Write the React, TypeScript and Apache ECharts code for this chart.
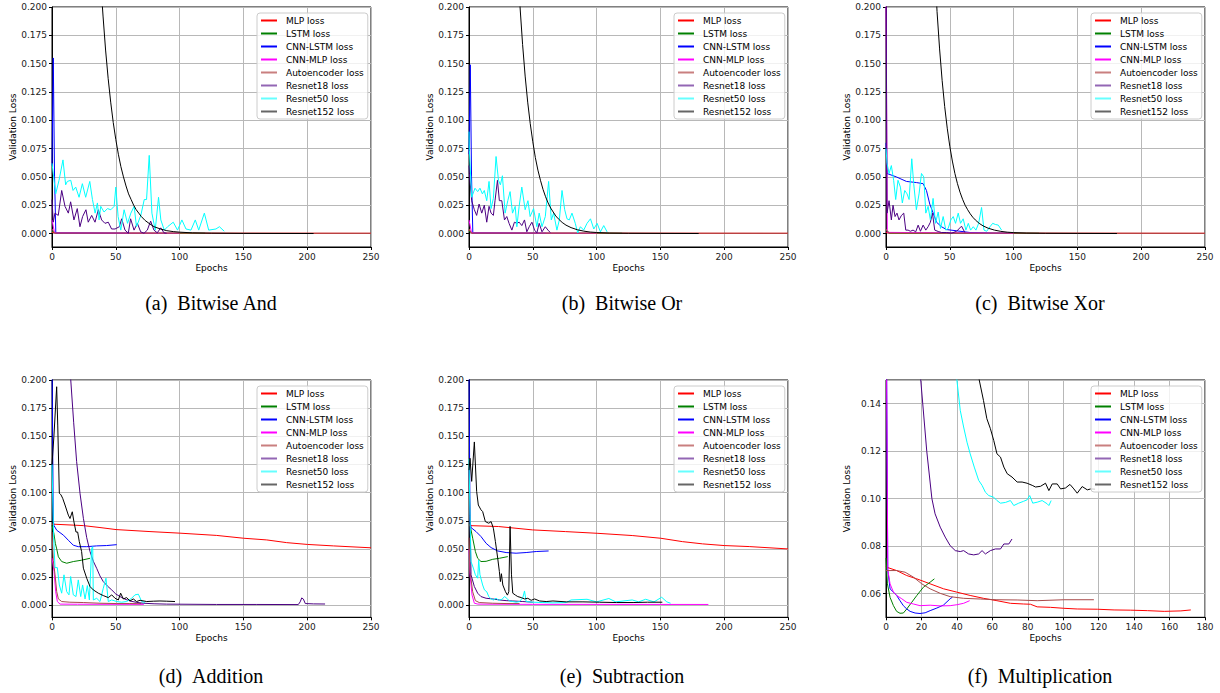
import React, { useEffect, useRef } from 'react';
import * as echarts from 'echarts';

type Pt = [number, number];

const MODELS = ['MLP loss', 'LSTM loss', 'CNN-LSTM loss', 'CNN-MLP loss', 'Autoencoder loss', 'Resnet18 loss', 'Resnet50 loss', 'Resnet152 loss'];
const LINE_COLORS = ['#ff0000', '#008000', '#0000ff', '#ff00ff', '#a84a4a', '#4b0082', '#00ffff', '#000000'];
const LEGEND_COLORS = ['#ff0000', '#008000', '#0000ff', '#ff00ff', '#c97f7f', '#9366b4', '#66ffff', '#666666'];
const CAPTIONS = ['(a)\u00a0\u00a0Bitwise And', '(b)\u00a0\u00a0Bitwise Or', '(c)\u00a0\u00a0Bitwise Xor', '(d)\u00a0\u00a0Addition', '(e)\u00a0\u00a0Subtraction', '(f)\u00a0\u00a0Multiplication'];
const X_TICKS_250 = [0, 50, 100, 150, 200, 250];
const X_TICKS_180 = [0, 20, 40, 60, 80, 100, 120, 140, 160, 180];
const Y_TICKS_LOSS = [0, 0.025, 0.05, 0.075, 0.1, 0.125, 0.15, 0.175, 0.2];
const Y_TICKS_MUL = [0.06, 0.08, 0.1, 0.12, 0.14];

// ---------- (a) Bitwise And ----------
const BITWISE_AND: Pt[][] = [
  [[0, 0.001], [3, 0.0003], [250, 0.0002]],
  [[0, 0.002], [3, 0.0004], [120, 0.0002]],
  [[0, 0.06], [1, 0.155], [2, 0.05], [3, 0.0005], [60, 0.0002]],
  [[0, 0.012], [2, 0.0005], [100, 0.0002]],
  [[0, 0.004], [2, 0.0004], [250, 0.0002]],
  [[0, 0.03], [1, 0.01], [2.3, 0.018], [4.9, 0.016], [7.6, 0.038], [10.2, 0.024], [12.8, 0.018], [14.6, 0.028], [17.2, 0.012], [19.8, 0.022], [21.9, 0.006], [24, 0.015], [26.6, 0.021], [28.4, 0.01], [31.1, 0.016], [33.7, 0.01], [36.3, 0.021], [38.9, 0.012], [41.5, 0.009], [44.1, 0.01], [46.7, 0.004], [49.4, 0.004], [52.8, 0.006], [54.6, 0.013], [57.2, 0.003], [59.8, 0.0003], [61.6, 0.013], [64.3, 0.003], [66.9, 0.009], [69.5, 0.0015], [72.1, 0.0002], [74.7, 0.003], [77.3, 0.011], [79.9, 0.003], [82.5, 0.0006], [85.2, 0.005], [87.8, 0.0006], [89.8, 0.0003]],
  [[0, 0.062], [2.9, 0.035], [5.5, 0.047], [8.6, 0.065], [10.7, 0.043], [12, 0.046], [14.7, 0.047], [16.5, 0.038], [18.6, 0.041], [21.2, 0.032], [23.8, 0.044], [26.4, 0.032], [29.6, 0.046], [31.7, 0.03], [33.8, 0.018], [35.6, 0.027], [36.9, 0.012], [38.2, 0.024], [40.8, 0.019], [43.5, 0.022], [46.1, 0.021], [48.7, 0.024], [50, 0.041], [51.8, 0.015], [53.9, 0.003], [56.5, 0.021], [59.2, 0.009], [61.8, 0.018], [64.4, 0.024], [66.2, 0.006], [69.6, 0.016], [72.3, 0.03], [74.1, 0.03], [76.2, 0.069], [78.3, 0.018], [80.9, 0.003], [83.5, 0.032], [85.3, 0.012], [88, 0.003], [90.6, 0.006], [95, 0.01], [98.4, 0.003], [101.8, 0.012], [105, 0.004], [108.9, 0.003], [112.3, 0.012], [115, 0.003], [119.4, 0.018], [122.8, 0.003], [128.5, 0.004], [131.2, 0.006], [135, 0.002]],
  [[30, 0.44], [35, 0.29], [38, 0.225], [40, 0.192], [42, 0.162], [44, 0.137], [46, 0.116], [48, 0.098], [50, 0.083], [52, 0.07], [54, 0.059], [56, 0.05], [58, 0.042], [60, 0.035], [62, 0.03], [64, 0.025], [66, 0.021], [68, 0.018], [70, 0.015], [73, 0.0115], [76, 0.009], [80, 0.006], [85, 0.004], [90, 0.0025], [95, 0.0017], [100, 0.0012], [110, 0.0006], [125, 0.0003], [150, 0.0001], [205, 0]],
];

// ---------- (b) Bitwise Or ----------
const BITWISE_OR: Pt[][] = [
  [[0, 0.003], [2, 0.0003], [250, 0.0002]],
  [[0, 0.002], [3, 0.0004], [120, 0.0002]],
  [[0, 0.07], [1, 0.149], [2, 0.05], [3, 0.0005], [60, 0.0002]],
  [[0, 0.012], [2, 0.0005], [100, 0.0002]],
  [[0, 0.004], [2, 0.0004], [250, 0.0002]],
  [[0, 0.06], [0.3, 0.053], [2.1, 0.029], [4.2, 0.021], [6, 0.016], [7.9, 0.026], [10, 0.018], [12, 0.025], [13.9, 0.01], [15.7, 0.024], [17.3, 0.018], [19.1, 0.016], [20.4, 0.029], [22.3, 0.047], [23.8, 0.029], [25.7, 0.029], [27.8, 0.012], [29.6, 0.015], [31.4, 0.009], [33.6, 0.003], [35.6, 0.01], [37.5, 0.009], [39.3, 0.01], [41.4, 0.007], [43.5, 0.012], [45.3, 0.0015], [47.2, 0.006], [49.3, 0.01], [51.4, 0.003], [53.2, 0.0006], [55, 0.009], [57.2, 0.0015], [59.8, 0.006], [61.9, 0.003], [63.7, 0.0009]],
  [[0, 0.09], [0.3, 0.0735], [2.1, 0.032], [4.7, 0.04], [6.8, 0.037], [8.6, 0.04], [10.5, 0.035], [12, 0.038], [13.9, 0.029], [15.7, 0.046], [17.3, 0.022], [19.1, 0.031], [21.2, 0.068], [23.1, 0.047], [24.6, 0.043], [26.2, 0.051], [28.3, 0.018], [30.4, 0.029], [32.2, 0.037], [34.1, 0.018], [36.2, 0.024], [37.5, 0.006], [39.3, 0.024], [41.4, 0.041], [44, 0.021], [46.2, 0.029], [47.9, 0.015], [50.6, 0.022], [53.2, 0.006], [55, 0.018], [57.2, 0.006], [59.8, 0.015], [62.4, 0.046], [64.5, 0.012], [66.3, 0.018], [68.9, 0.003], [70.8, 0.012], [72.9, 0.038], [75, 0.021], [76.8, 0.013], [78.6, 0.012], [80.7, 0.018], [83.3, 0.009], [85.2, 0.0005], [87.3, 0.006], [89.9, 0.003], [92.5, 0.009], [95.2, 0.013], [97.8, 0.004], [100.4, 0.009], [103, 0.0015], [105.6, 0.007], [108.2, 0.0015]],
  [[30, 0.5], [35, 0.32], [38, 0.24], [40, 0.2], [42, 0.167], [44, 0.139], [46, 0.116], [48, 0.097], [50, 0.081], [52, 0.067], [54, 0.056], [56, 0.047], [58, 0.039], [60, 0.0325], [62, 0.027], [64, 0.0225], [66, 0.019], [68, 0.0155], [70, 0.013], [73, 0.0098], [76, 0.0074], [80, 0.0052], [85, 0.0033], [90, 0.0021], [95, 0.0013], [100, 0.0009], [110, 0.0004], [125, 0.0002], [150, 0.0001], [180, 0]],
];

// ---------- (c) Bitwise Xor ----------
const BITWISE_XOR: Pt[][] = [
  [[0, 0.001], [3, 0.0003], [250, 0.0002]],
  [[0, 0.003], [3, 0.0004], [120, 0.0002]],
  [[0, 0.08], [0.8, 0.053], [8.1, 0.05], [16, 0.046], [23.8, 0.045], [29.1, 0.044], [31.7, 0.038], [34.3, 0.026], [37, 0.018], [39.6, 0.01], [43.5, 0.006], [47.4, 0.0035], [55.3, 0.0024], [65.8, 0.0009], [84, 0.0003], [100, 0.0002]],
  [[0, 0.22], [1, 0.001], [100, 0.0002]],
  [[0, 0.004], [2, 0.0004], [250, 0.0002]],
  [[0, 0.25], [0.8, 0.018], [2.4, 0.029], [4.2, 0.012], [5.5, 0.025], [7.1, 0.015], [8.6, 0.018], [10.2, 0.012], [12.1, 0.016], [13.9, 0.018], [15.5, 0.003], [17.3, 0.003], [19.1, 0.002], [21.2, 0.003], [23.3, 0.0015], [25.2, 0.0074], [27, 0.002], [29.1, 0.0074], [31.2, 0.003], [33, 0.006], [34.8, 0.01], [36.4, 0.018], [38.2, 0.003], [40.9, 0.0018], [43.5, 0.0009], [47.4, 0.0009], [51.4, 0.0003], [55.3, 0.002], [59.2, 0.0065], [61.8, 0.0009]],
  [[0, 0.075], [0.8, 0.062], [2.4, 0.053], [4.2, 0.06], [6, 0.047], [7.6, 0.03], [9.4, 0.047], [11.3, 0.041], [12.8, 0.027], [14.7, 0.038], [16.5, 0.035], [18.1, 0.03], [20.2, 0.066], [21.7, 0.044], [23.8, 0.021], [25.9, 0.035], [27.8, 0.053], [29.6, 0.05], [31.2, 0.018], [33, 0.024], [34.8, 0.012], [36.9, 0.031], [38.8, 0.009], [40.9, 0.019], [42.7, 0.0044], [44.8, 0.015], [46.9, 0.003], [48.7, 0.0044], [50.8, 0.012], [52.7, 0.015], [54.5, 0.009], [56.6, 0.018], [58.4, 0.009], [60.5, 0.013], [62.6, 0.003], [64.5, 0.009], [66.3, 0.003], [68.4, 0.006], [70.5, 0.003], [72.6, 0.009], [74.9, 0.023], [76.8, 0.003], [78.9, 0.002], [81.5, 0.006], [83.6, 0.009], [85.7, 0.008], [88, 0.0074], [90.6, 0.003]],
  [[30, 0.5], [35, 0.31], [38, 0.24], [40, 0.196], [42, 0.163], [44, 0.135], [46, 0.112], [48, 0.093], [50, 0.077], [52, 0.064], [54, 0.053], [56, 0.044], [58, 0.0365], [60, 0.0303], [62, 0.025], [64, 0.021], [66, 0.0174], [68, 0.0144], [70, 0.012], [73, 0.009], [76, 0.0068], [80, 0.0047], [85, 0.003], [90, 0.0019], [95, 0.0012], [100, 0.0008], [110, 0.0004], [125, 0.0002], [150, 0.0001], [181, 0]],
];

// ---------- (d) Addition ----------
const ADDITION: Pt[][] = [
  [[0, 0.072], [1, 0.072], [24.6, 0.0707], [37.6, 0.069], [50.2, 0.0672], [76.8, 0.0654], [100.3, 0.064], [129.1, 0.062], [150.2, 0.0595], [168.3, 0.058], [183.9, 0.0556], [200.1, 0.054], [220.5, 0.0527], [250, 0.051]],
  [[0, 0.071], [1.6, 0.063], [2.6, 0.055], [3.7, 0.05], [5, 0.043], [7.6, 0.0388], [11.5, 0.0373], [16.7, 0.0388], [23.2, 0.04], [29.8, 0.0417]],
  [[0, 0.22], [1, 0.075], [1.6, 0.0707], [3.7, 0.0666], [9, 0.0622], [12.8, 0.0577], [16.7, 0.0533], [20.6, 0.052], [27.2, 0.052], [35, 0.0527], [42.8, 0.053], [50.7, 0.0538]],
  [[0, 0.042], [1.6, 0.03], [2.9, 0.012], [4.2, 0.0033], [6.3, 0.001], [20, 0.0009], [72, 0.0008]],
  [[0, 0.065], [1, 0.04], [2.4, 0.027], [3.7, 0.012], [5, 0.0056], [7.6, 0.0033], [14, 0.0027], [24.5, 0.0024], [37.6, 0.0018], [50.7, 0.0015], [61, 0.0015], [70, 0.0014]],
  [[5, 0.5], [10, 0.32], [12.5, 0.255], [14.7, 0.2], [17, 0.162], [19.3, 0.1275], [22, 0.099], [24.6, 0.0772], [27.2, 0.06], [29.8, 0.0476], [32.4, 0.039], [35, 0.0328], [37.6, 0.026], [40.2, 0.021], [43.5, 0.017], [46.8, 0.0136], [50, 0.01], [53.3, 0.0077], [57, 0.0055], [61.1, 0.0038], [66, 0.0026], [71.5, 0.0018], [80, 0.0013], [89.9, 0.001], [129, 0.0007], [160, 0.0007], [193, 0.0006], [194.5, 0.003], [195.7, 0.0065], [197, 0.0055], [198.5, 0.0015], [205, 0.0012], [214, 0.0011]],
  [[0, 0.125], [1.3, 0.06], [2.35, 0.0334], [4.18, 0.0334], [5.75, 0.018], [7.58, 0.0107], [9.4, 0.027], [11.5, 0.0121], [13.3, 0.0092], [14.6, 0.0255], [16.7, 0.0092], [18.8, 0.0077], [20.6, 0.0225], [22.5, 0.0077], [24, 0.018], [25.9, 0.0056], [27.7, 0.0175], [29.3, 0.0047], [31.1, 0.0506], [31.9, 0.052], [32.4, 0.0047], [35, 0.0062], [37.6, 0.0033], [40.2, 0.0151], [42.3, 0.024], [44.1, 0.0033], [46.8, 0.0047], [50.7, 0.0033], [54.6, 0.0027], [58.5, 0.0033], [62.4, 0.0062], [65, 0.0092], [67.7, 0.0098], [70.3, 0.0033], [72.9, 0.0024]],
  [[0, 0.125], [1.5, 0.15], [3.66, 0.194], [4.5, 0.16], [5.75, 0.0995], [7.05, 0.098], [8.36, 0.095], [10.2, 0.089], [12.8, 0.08], [14.1, 0.077], [15.9, 0.083], [17.2, 0.074], [18.8, 0.065], [20.1, 0.065], [21.4, 0.0565], [23.2, 0.0477], [24.6, 0.0329], [27.2, 0.024], [29.8, 0.0166], [32.4, 0.0136], [36.3, 0.0107], [40.2, 0.0086], [44.1, 0.0068], [46.8, 0.0092], [49.4, 0.0062], [52, 0.0047], [53.8, 0.0107], [55.9, 0.0056], [58.5, 0.0068], [61.1, 0.0038], [63.7, 0.0056], [66.3, 0.0033], [69, 0.0044], [74.2, 0.0033], [79.4, 0.0036], [84.6, 0.0038], [89.9, 0.0036], [96.4, 0.0033]],
];

// ---------- (e) Subtraction ----------
const SUBTRACTION: Pt[][] = [
  [[0, 0.0707], [0.8, 0.0707], [23.1, 0.0699], [49.8, 0.0669], [75.5, 0.0654], [100.4, 0.0639], [127.9, 0.0619], [150.2, 0.0595], [167.2, 0.0565], [183, 0.0545], [200, 0.053], [219.6, 0.0521], [250, 0.05]],
  [[0, 0.072], [0.8, 0.0713], [2.9, 0.0595], [5, 0.0477], [6.8, 0.0417], [9.4, 0.0388], [13.4, 0.039], [18.6, 0.0408], [23.8, 0.0417], [30.4, 0.0432]],
  [[0, 0.21], [0.8, 0.075], [1.6, 0.069], [5.5, 0.0654], [9.4, 0.061], [13.4, 0.055], [17.3, 0.0512], [22.5, 0.0482], [29.1, 0.0468], [36.9, 0.0462], [44.8, 0.0468], [52.7, 0.0477], [62.4, 0.0482]],
  [[0, 0.05], [0.8, 0.027], [2.4, 0.009], [4.2, 0.0018], [7, 0.001], [50, 0.0008], [187.6, 0.0007]],
  [[0, 0.06], [0.8, 0.03], [2.9, 0.012], [5, 0.0041], [8, 0.0024], [18.6, 0.0018], [29, 0.0015], [39.6, 0.0015]],
  [[0, 0.12], [1.6, 0.027], [4.2, 0.0166], [6.8, 0.0107], [9.4, 0.0077], [13.4, 0.0062], [18.6, 0.0056], [23.8, 0.0047], [29.1, 0.0041], [34.3, 0.0038], [42.2, 0.0033], [50, 0.0027]],
  [[0, 0.13], [0.8, 0.08], [1.6, 0.0388], [3.4, 0.033], [5, 0.027], [6.8, 0.024], [7.6, 0.04], [8.6, 0.027], [10.7, 0.018], [12.1, 0.0136], [13.9, 0.012], [15.5, 0.0077], [17.3, 0.0056], [19.1, 0.0047], [21.2, 0.0062], [23.3, 0.0044], [25.9, 0.0053], [27.8, 0.0077], [29.6, 0.0062], [31.7, 0.0038], [34.3, 0.0033], [36.9, 0.0027], [39.6, 0.0033], [42.2, 0.0068], [43.5, 0.0127], [44.8, 0.0033], [50, 0.0027], [57.9, 0.0024], [65.8, 0.0021], [76.2, 0.0024], [80, 0.0047], [92.5, 0.0053], [100, 0.003], [109.6, 0.006], [115, 0.003], [127.9, 0.0047], [133, 0.003], [138.4, 0.0053], [145, 0.003], [151, 0.0071], [155, 0.003], [158, 0.0018]],
  [[0, 0.12], [0.8, 0.1305], [2.1, 0.11], [4.2, 0.145], [6, 0.101], [7.3, 0.089], [9.4, 0.0847], [10.7, 0.0832], [12.8, 0.0743], [15.5, 0.0728], [17.3, 0.0743], [19.1, 0.0684], [20.7, 0.0565], [22.5, 0.0417], [23.8, 0.03], [24.6, 0.021], [25.4, 0.028], [26.5, 0.018], [28.6, 0.012], [30.1, 0.009], [31.2, 0.012], [32.2, 0.07], [33.3, 0.027], [34.3, 0.0107], [36.4, 0.009], [38.2, 0.0077], [40.9, 0.0068], [43.5, 0.0056], [46.1, 0.0062], [48.7, 0.0044], [51.4, 0.0056], [55.3, 0.0038], [60.5, 0.0033], [65.8, 0.0038], [76.2, 0.003], [89.3, 0.003], [102.4, 0.0027], [115.5, 0.0024], [128.6, 0.0024], [140, 0.0027], [151.5, 0.0027]],
];

// ---------- (f) Multiplication ----------
const MULTIPLICATION: Pt[][] = [
  [[0, 0.0715], [0.4, 0.0711], [6, 0.0697], [11.7, 0.0676], [17.4, 0.0662], [24.9, 0.0641], [32.5, 0.062], [40, 0.0606], [47.5, 0.0592], [55, 0.058], [62.6, 0.057], [70.2, 0.0559], [77.7, 0.0556], [81.5, 0.0555], [85.3, 0.0544], [92.8, 0.0542], [100.3, 0.0538], [107.9, 0.0535], [119.2, 0.0534], [128.7, 0.0531], [138.1, 0.053], [147.5, 0.0528], [157, 0.0525], [166.4, 0.0527], [172, 0.0531]],
  [[0, 0.075], [0.8, 0.0641], [2.3, 0.0584], [4.2, 0.0549], [6, 0.0525], [7.9, 0.0517], [9.8, 0.0518], [11.7, 0.0535], [14.5, 0.0563], [17.4, 0.0592], [21.1, 0.0627], [24.9, 0.0648], [27.3, 0.0662]],
  [[0, 0.2], [1, 0.07], [2.3, 0.062], [4.2, 0.0606], [6, 0.0592], [7.9, 0.057], [9.8, 0.0549], [11.7, 0.0535], [13.6, 0.0525], [16.4, 0.0518], [19.2, 0.0516], [22.1, 0.0519], [24.9, 0.0528], [28.7, 0.0539], [32.5, 0.0552], [36.2, 0.0578], [37.5, 0.0585]],
  [[0, 0.2], [1, 0.07], [2.3, 0.0641], [4.2, 0.0606], [6, 0.0592], [8.9, 0.0578], [11.7, 0.0563], [15.5, 0.0556], [19.2, 0.0549], [24.9, 0.0551], [30.6, 0.0548], [36.2, 0.0549], [40, 0.0553], [43.8, 0.0559], [47.2, 0.057]],
  [[0, 0.0697], [6, 0.0697], [10.8, 0.069], [15.5, 0.0669], [20.2, 0.0641], [24.9, 0.062], [30.6, 0.0601], [36.2, 0.0587], [43.8, 0.058], [53.2, 0.0577], [62.6, 0.0574], [74, 0.0573], [85.3, 0.057], [100.3, 0.0574], [117.3, 0.0574]],
  [[0, 0.6], [12, 0.25], [16, 0.185], [19.6, 0.15], [23, 0.12], [25.9, 0.1], [27.7, 0.0936], [30.6, 0.088], [33.4, 0.0838], [36.2, 0.0802], [39.1, 0.0781], [41.9, 0.0777], [43.8, 0.0781], [46.6, 0.0767], [49.5, 0.0763], [52.3, 0.0767], [54.2, 0.0781], [56.1, 0.0767], [58.9, 0.0781], [61.7, 0.0788], [64.6, 0.0788], [66.5, 0.0809], [69.3, 0.0809], [71.1, 0.083]],
  [[0, 0.6], [30, 0.25], [37, 0.18], [40, 0.15], [41.9, 0.1372], [43.8, 0.1302], [45.7, 0.1238], [47.5, 0.1189], [49.8, 0.1133], [52.3, 0.1077], [54.2, 0.1056], [56.1, 0.1027], [58, 0.1013], [60.8, 0.1006], [62.6, 0.0992], [64.6, 0.0981], [67.4, 0.0984], [70.2, 0.0992], [72.1, 0.0971], [74.9, 0.0981], [77.7, 0.0989], [79.6, 0.0995], [81.1, 0.1013], [82.8, 0.0981], [85.3, 0.0985], [88.1, 0.0992], [91, 0.0978], [91.9, 0.0971], [93.2, 0.0992]],
  [[0, 0.6], [40, 0.25], [50, 0.165], [52.6, 0.15], [55, 0.1414], [56.9, 0.1337], [58.9, 0.1295], [60.8, 0.1245], [62.6, 0.1189], [64.6, 0.1175], [66.5, 0.1133], [68.4, 0.1105], [71.1, 0.1091], [74, 0.107], [76.8, 0.107], [79.6, 0.1065], [82.5, 0.1056], [84.4, 0.1049], [87.2, 0.1052], [90, 0.1065], [91.9, 0.1034], [93.8, 0.1062], [96.6, 0.1062], [98.5, 0.1041], [101.3, 0.1045], [103.8, 0.106], [106, 0.1041], [107.9, 0.1023], [110.7, 0.1051], [113.6, 0.1037], [115.5, 0.1041], [118, 0.104]],
];

const PANEL_DATA = [BITWISE_AND, BITWISE_OR, BITWISE_XOR, ADDITION, SUBTRACTION, MULTIPLICATION];

// ---------- layout ----------
const GRID_LEFTS = [52, 469, 886];
const GRID_WIDTH = 319;
const ROW_TOPS = [7, 380];
const ROW_HEIGHTS = [240, 237.3];
const CAPTION_X = [211, 622, 1040];
const CAPTION_Y = [303, 676];
const FONT = 'DejaVu Sans';

function buildOption() {
  const grid: any[] = [];
  const xAxis: any[] = [];
  const yAxis: any[] = [];
  const series: any[] = [];
  const legend: any[] = [];
  const graphic: any[] = [];

  PANEL_DATA.forEach((panel, p) => {
    const col = p % 3;
    const row = Math.floor(p / 3);
    const left = GRID_LEFTS[col];
    const top = ROW_TOPS[row];
    const isMul = p === 5;
    const xt = isMul ? X_TICKS_180 : X_TICKS_250;
    const yt = isMul ? Y_TICKS_MUL : Y_TICKS_LOSS;
    const yStep = yt[1] - yt[0];
    const yMin = isMul ? 0.05 : row === 0 ? -0.0119 : -0.0107;
    const yMax = isMul ? 0.15 : yt[yt.length - 1];

    grid.push({ left, top, width: GRID_WIDTH, height: ROW_HEIGHTS[row], show: true, borderColor: '#000', borderWidth: 1, backgroundColor: 'transparent' });

    xAxis.push({
      type: 'value', gridIndex: p, min: xt[0], max: xt[xt.length - 1], interval: xt[1] - xt[0],
      name: 'Epochs', nameLocation: 'middle', nameGap: 16,
      nameTextStyle: { fontFamily: FONT, fontSize: 9, color: '#000' },
      axisLine: { show: true, onZero: false, lineStyle: { color: '#000', width: 1 } },
      axisTick: { show: true, length: 3, lineStyle: { color: '#000', width: 1 } },
      axisLabel: { fontFamily: FONT, fontSize: 9, color: '#222', margin: 5 },
      splitLine: { show: true, lineStyle: { color: '#b8b8b8', width: 1 } },
    });

    yAxis.push({
      type: 'value', gridIndex: p, min: yMin, max: yMax, minInterval: yStep, maxInterval: yStep,
      name: 'Validation Loss', nameLocation: 'middle', nameGap: 35, nameRotate: 90,
      nameTextStyle: { fontFamily: FONT, fontSize: 9, color: '#000' },
      axisLine: { show: true, lineStyle: { color: '#000', width: 1 } },
      axisTick: { show: true, length: 3, lineStyle: { color: '#000', width: 1 } },
      axisLabel: {
        fontFamily: FONT, fontSize: 9, color: '#222', margin: 5,
        showMinLabel: false, showMaxLabel: !isMul,
        formatter: (v: number) => (v < yt[0] - 1e-9 || v > yt[yt.length - 1] + 1e-9 ? '' : v.toFixed(isMul ? 2 : 3)),
      },
      splitLine: { show: true, lineStyle: { color: '#b8b8b8', width: 1 } },
    });

    panel.forEach((d, m) => {
      series.push({
        type: 'line', name: MODELS[m], xAxisIndex: p, yAxisIndex: p, data: d,
        symbol: 'none', showSymbol: false, clip: true, silent: true,
        color: LINE_COLORS[m], lineStyle: { width: 1, color: LINE_COLORS[m] },
        emphasis: { disabled: true },
      });
    });

    legend.push({
      orient: 'vertical', left: left + 205, top: top + 6,
      itemWidth: 16, itemHeight: 2, itemGap: 0, icon: 'rect', selectedMode: false,
      padding: [1, 4, 1, 4], backgroundColor: 'rgba(255,255,255,0.8)', borderColor: '#cccccc', borderWidth: 1, borderRadius: 3,
      textStyle: { fontFamily: FONT, fontSize: 9, color: '#000', lineHeight: 13, padding: [0, 0, 0, 4] },
      data: MODELS.map((n, i) => ({ name: n, icon: 'rect', itemStyle: { color: LEGEND_COLORS[i] } })),
    });

    graphic.push({
      type: 'text', x: CAPTION_X[col], y: CAPTION_Y[row], silent: true,
      style: { text: CAPTIONS[p], fontFamily: 'Liberation Serif', fontSize: 20, fill: '#000', textAlign: 'center', textVerticalAlign: 'middle', align: 'center', verticalAlign: 'middle' },
    });
  });

  return { animation: false, backgroundColor: '#ffffff', grid, xAxis, yAxis, series, legend, graphic };
}

export default function App() {
  const ref = useRef<HTMLDivElement>(null);
  useEffect(() => {
    if (!ref.current) return;
    const chart = echarts.init(ref.current, undefined, { renderer: 'svg' });
    chart.setOption(buildOption() as any);
    return () => chart.dispose();
  }, []);
  return <div ref={ref} style={{ position: 'fixed', left: 0, top: 0, width: 1220, height: 693, background: '#fff' }} />;
}
